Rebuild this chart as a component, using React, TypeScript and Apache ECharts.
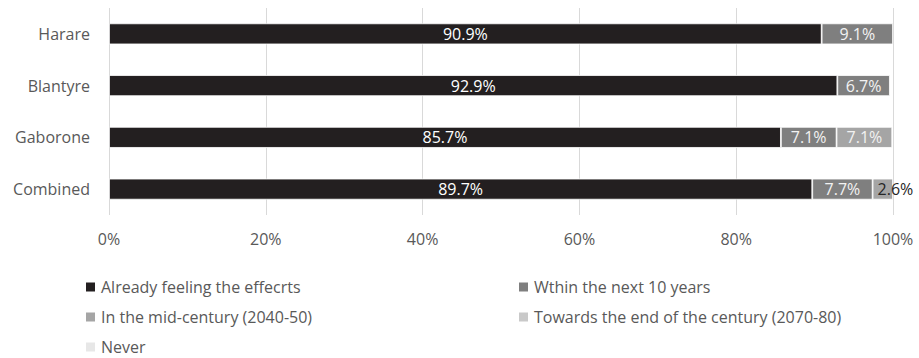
import React, { useEffect, useRef } from "react";
import * as echarts from "echarts";

const categories = ["Harare", "Blantyre", "Gaborone", "Combined"];
const seriesNames = [
  "Already feeling the effecrts",
  "Wthin the next 10 years",
  "In the mid-century (2040-50)",
  "Towards the end of the century (2070-80)",
  "Never",
];
const already = [90.9, 92.9, 85.7, 89.7];
const within10 = [9.1, 6.7, 7.1, 7.7];
const midCentury = [null, null, 7.1, 2.6];
const endCentury = [null, null, null, null];
const never = [null, null, null, null];
const xTicks = [0, 20, 40, 60, 80, 100];

const colors = ["#231f20", "#7f7f7f", "#a5a5a5", "#c9c9c9", "#e7e7e7"];
const FONT = "Open Sans";

export default function App() {
  const ref = useRef<HTMLDivElement>(null);
  useEffect(() => {
    if (!ref.current) return;
    const chart = echarts.init(ref.current, null, { renderer: "svg" });
    const lbl = (color: string) => ({
      show: true,
      position: "inside",
      color,
      fontFamily: FONT,
      fontSize: 16,
      formatter: (p: any) => (p.value == null ? "" : p.value.toFixed(1) + "%"),
    });
    const mk = (i: number, data: any[], labelColor: string) => ({
      name: seriesNames[i],
      type: "bar",
      stack: "total",
      barWidth: 21,
      itemStyle: { color: colors[i], borderColor: "#ffffff", borderWidth: 0.8 },
      label: lbl(labelColor),
      data,
    });
    const midData = midCentury.map((v, i) =>
      i === 3
        ? {
            value: v,
            label: {
              position: "insideLeft",
              distance: 5,
              color: "#262626",
            },
          }
        : v
    );
    const legendText = { color: "#595959", fontFamily: FONT, fontSize: 16, lineHeight: 20 };
    chart.setOption({
      animation: false,
      textStyle: { fontFamily: FONT },
      grid: { left: 109, right: 26, top: 8, bottom: 143 },
      xAxis: {
        type: "value",
        min: xTicks[0],
        max: xTicks[xTicks.length - 1],
        interval: 20,
        axisLine: { show: false },
        axisTick: { show: false },
        splitLine: { lineStyle: { color: "#d9d9d9", width: 1 } },
        axisLabel: {
          formatter: "{value}%",
          color: "#595959",
          fontFamily: FONT,
          fontSize: 16,
          margin: 16,
        },
      },
      yAxis: {
        type: "category",
        inverse: true,
        data: categories,
        axisLine: { show: false },
        axisTick: { show: false },
        axisLabel: { color: "#595959", fontFamily: FONT, fontSize: 16, margin: 19 },
      },
      legend: [
        {
          orient: "vertical",
          left: 84,
          top: 277,
          height: 100,
          padding: 0,
          itemWidth: 11,
          itemHeight: 11,
          itemGap: 10,
          icon: "rect",
          textStyle: legendText,
          data: [seriesNames[0], seriesNames[2], seriesNames[4]],
        },
        {
          orient: "vertical",
          left: 517,
          top: 277,
          height: 100,
          padding: 0,
          itemWidth: 11,
          itemHeight: 11,
          itemGap: 10,
          icon: "rect",
          textStyle: legendText,
          data: [seriesNames[1], seriesNames[3]],
        },
      ],
      series: [
        mk(0, already, "#ffffff"),
        mk(1, within10, "#f2f2f2"),
        mk(2, midData, "#f2f2f2"),
        mk(3, endCentury, "#262626"),
        mk(4, never, "#262626"),
      ],
    });
    return () => chart.dispose();
  }, []);
  return (
    <div
      ref={ref}
      style={{ position: "fixed", left: 0, top: 0, width: 919, height: 358, background: "#fff" }}
    />
  );
}
